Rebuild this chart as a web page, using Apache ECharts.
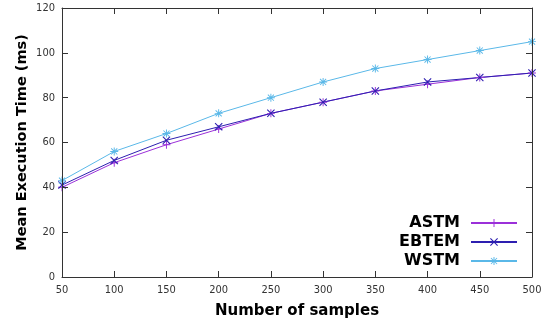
<!DOCTYPE html>
<html>
<head>
<meta charset="utf-8">
<script src="https://cdn.jsdelivr.net/npm/echarts@6/dist/echarts.min.js"></script>
<style>html,body{margin:0;padding:0;background:#fff}#c{width:542px;height:327px}</style>
</head>
<body>
<div id="c"></div>
<script>
const samples = ['50','100','150','200','250','300','350','400','450','500'];
const astm  = [40, 51, 59, 66, 73, 78, 83, 86, 89, 91];
const ebtem = [41, 52, 61, 67, 73, 78, 83, 87, 89, 91];
const wstm  = [43, 56, 64, 73, 80, 87, 93, 97, 101, 105];

const plusPath = 'path://M-0.6,-5 L0.6,-5 L0.6,5 L-0.6,5 Z M-5,-0.6 L5,-0.6 L5,0.6 L-5,0.6 Z';
const crossPath = 'path://M-4.2,-3.4 L-3.4,-4.2 L4.2,3.4 L3.4,4.2 Z M3.4,-4.2 L4.2,-3.4 L-3.4,4.2 L-4.2,3.4 Z';
const starPath = 'path://M-0.6,-5 L0.6,-5 L0.6,5 L-0.6,5 Z M-5,-0.6 L5,-0.6 L5,0.6 L-5,0.6 Z M-4.2,-3.4 L-3.4,-4.2 L4.2,3.4 L3.4,4.2 Z M3.4,-4.2 L4.2,-3.4 L-3.4,4.2 L-4.2,3.4 Z';

const axisCol = '#333';
const labelFont = {color:'#333', fontFamily:'DejaVu Sans Condensed, Liberation Sans', fontSize:11};
const chart = echarts.init(document.getElementById('c'));
function mk(name, data, color, sym){
  return {name, type:'line', data, color, symbol:sym, symbolSize:8, showSymbol:true,
    xAxisIndex:0, yAxisIndex:0,
    lineStyle:{width:1, color}, itemStyle:{color}, emphasis:{disabled:true}, animation:false};
}
const tick = {show:true, inside:true, length:6, lineStyle:{color:'#333333', width:1, opacity:1}};
chart.setOption({
  animation:false,
  grid:{left:62, right:10, top:8, bottom:50, outerBoundsMode:'none', containLabel:false},
  legend:{
    right:19, bottom:53, orient:'vertical', align:'right', itemWidth:46, itemHeight:10, itemGap:3,
    textStyle:{fontFamily:'DejaVu Sans', fontWeight:'bold', fontSize:16, color:'#000', padding:[0,6,0,0]},
    data:['ASTM','EBTEM','WSTM']
  },
  xAxis:[{
    type:'category', data:samples, boundaryGap:false, z:10,
    axisLine:{show:true, onZero:false, lineStyle:{color:axisCol, width:1}},
    axisTick:{...tick, interval:0},
    axisLabel:{...labelFont, margin:8},
    name:'Number of samples', nameLocation:'middle', nameGap:27, nameMoveOverlap:false,
    nameTextStyle:{fontFamily:'DejaVu Sans', fontWeight:'bold', fontSize:15, color:'#000'}
  },{
    type:'category', data:samples, boundaryGap:false, position:'top', z:10,
    axisLine:{show:true, onZero:false, lineStyle:{color:axisCol, width:1}},
    axisTick:{...tick, interval:0},
    axisLabel:{show:true, color:'rgba(0,0,0,0)', fontSize:1}
  }],
  yAxis:[{
    type:'value', min:0, max:120, interval:20, z:10,
    axisLine:{show:true, onZero:false, lineStyle:{color:axisCol, width:1}},
    axisTick:tick,
    splitLine:{show:false},
    axisLabel:{...labelFont, margin:7},
    name:'Mean Execution Time (ms)', nameLocation:'middle', nameGap:32, nameMoveOverlap:false,
    nameTextStyle:{fontFamily:'DejaVu Sans', fontWeight:'bold', fontSize:14.5, color:'#000'}
  },{
    type:'value', min:0, max:120, interval:20, position:'right', z:10,
    axisLine:{show:true, onZero:false, lineStyle:{color:axisCol, width:1}},
    axisTick:tick,
    splitLine:{show:false}, axisLabel:{show:true, color:'rgba(0,0,0,0)', fontSize:1}
  }],
  series:[
    mk('ASTM', astm, '#9b30d9', plusPath),
    mk('EBTEM', ebtem, '#2d1fb0', crossPath),
    mk('WSTM', wstm, '#5ab8e8', starPath),
    {type:'line', data:[], xAxisIndex:1, yAxisIndex:1, silent:true}
  ]
});
</script>
</body>
</html>
